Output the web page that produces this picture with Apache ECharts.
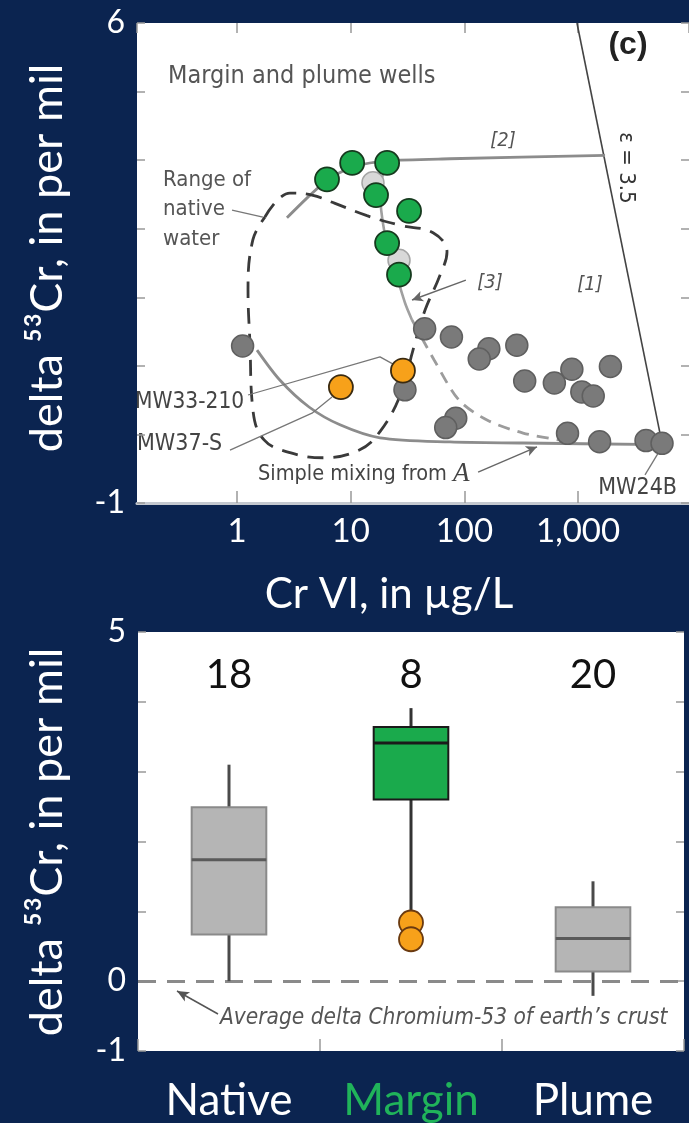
<!DOCTYPE html>
<html>
<head>
<meta charset="utf-8">
<script src="https://cdn.jsdelivr.net/npm/echarts@6/dist/echarts.min.js"></script>
<style>
html,body{margin:0;padding:0;background:#0b2450;}
#c{width:689px;height:1123px;}
</style>
</head>
<body>
<div id="c"></div>
<script>
// ---------- DATA (top panel: Cr VI µg/L vs delta 53Cr) ----------
const xTickValues = [1, 10, 100, 1000];
const yTopLabels = [-1, 6];
const yBottomLabels = [-1, 0, 5];

const greenPts  = [[6.19,3.72],[10.3,3.96],[20.9,3.96],[16.7,3.49],[32.6,3.26],[20.9,2.79],[26.6,2.33]];
const hollowPts = [[15.7,3.67],[26.6,2.54]];
const grayPts   = [[1.12,1.29],[44.7,1.54],[76.9,1.42],[164,1.25],[135,1.10],[289,1.30],[339,0.78],
                   [618,0.75],[881,0.95],[1923,0.99],[1078,0.62],[1358,0.56],[83.9,0.235],[68.5,0.10],
                   [807,0.016],[1545,-0.106],[3956,-0.09],[5470,-0.13],[30,0.65]];
const orangePts = [[8.2,0.69],[28.8,0.93]];

const epsilonLine = [[977,6],[5470,-0.13]];
const curve2 = [[2.75,3.16],[4.39,3.49],[6.58,3.74],[10.9,3.91],[20.9,3.99],[74.7,4.02],[1726,4.07]];
const curve3 = [[20.9,3.99],[18.1,3.56],[20.0,2.91],[24.5,2.40],[30,1.92],[34.6,1.67]];
const curve3Dash = [[34.6,1.67],[54,1.09],[89.7,0.50],[158,0.21],[328,0.02],[679,-0.08]];
const mixingCurve = [[1.50,1.23],[2.39,0.79],[4.30,0.40],[8.05,0.14],[18.1,-0.05],[74.7,-0.11],[328,-0.125],[5470,-0.15]];
const nativeEnvelope = [[1.76,3.17],[2.92,3.52],[4.57,3.49],[7.28,3.37],[13.9,3.19],[27.2,3.05],[53,2.94],
                        [70.3,2.66],[61,2.32],[45,1.81],[35.3,1.23],[27.7,0.60],[18.1,0.04],[11.8,-0.23],
                        [5.71,-0.34],[2.98,-0.27],[1.73,-0.08],[1.38,0.36],[1.30,1.33],[1.25,2.11],[1.38,2.84],[1.76,3.17]];
const leaderNative = [[0.904,3.27],[1.69,3.17]];
const leaderMW33 = [[1.25,0.575],[18.1,1.13],[24.5,1.01]];
const leaderMW37 = [[0.868,-0.23],[4.57,0.31],[6.85,0.545]];
const leaderMW24B = [[3875,-0.59],[5250,-0.23]];
const arrow3 = [[103,2.25],[34.6,1.96]];
const arrowMixing = [[132,-0.55],[435,-0.18]];

// ---------- DATA (bottom panel: box plots) ----------
const boxCats = ['Native','Margin','Plume'];
// [low whisker, Q1, median, Q3, high whisker]
const boxStats = [[0.0,0.67,1.74,2.49,3.1],[0.84,2.6,3.41,3.64,3.91],[-0.21,0.14,0.61,1.06,1.43]];
const boxCounts = [18, 8, 20];
const countLevel = 4.39;
const marginOutliers = [0.84, 0.6];
const crustAverage = 0;

// ---------- STYLES ----------
const NAVY = '#0b2450';
const GREEN = '#1aaa4c';
const ORANGE = '#f7a11a';
const NARROW = "'Liberation Sans Narrow','DejaVu Sans Condensed','Arial Narrow',sans-serif";
const SLIDE = "Lato,'Open Sans',sans-serif";
const boxStyles = [
  {fill:'#b5b5b5', stroke:'#8a8a8a', whisker:'#4a4a4a', median:'#5a5a5a'},
  {fill:GREEN, stroke:'#1a1a1a', whisker:'#333', median:'#1a1a1a'},
  {fill:'#b5b5b5', stroke:'#8a8a8a', whisker:'#4a4a4a', median:'#5a5a5a'}
];

const chart = echarts.init(document.getElementById('c'), null, {renderer:'canvas'});

function lineSeries(data, style, extra) {
  return Object.assign({
    type:'line', xAxisIndex:0, yAxisIndex:0, data:data, symbol:'none', silent:true,
    lineStyle:style, smooth:0.35, z:2, animation:false
  }, extra || {});
}
const tickStyle = {color:'#999', width:1.5};

const option = {
  backgroundColor: NAVY,
  animation:false,
  grid:[
    {left:137, top:23, right:0, height:480, show:true, backgroundColor:'#fff', borderWidth:0},
    {left:138, top:632, right:5, height:420, show:true, backgroundColor:'#fff', borderWidth:0}
  ],
  xAxis:[
    {gridIndex:0, type:'log', min:0.132, max:9445, position:'bottom',
     axisLine:{show:true, onZero:false, lineStyle:{color:'#c4c8cf', width:3}},
     axisTick:{show:true, inside:true, length:12, lineStyle:tickStyle},
     axisLabel:{color:'#fff', fontSize:33, fontFamily:SLIDE, margin:12, showMinLabel:false, showMaxLabel:false,
       formatter:function(v){ const r=Math.round(v); return xTickValues.indexOf(r)>=0 ? r.toLocaleString('en-US') : ''; }},
     splitLine:{show:false}},
    {gridIndex:0, type:'log', min:0.132, max:9445, position:'top',
     axisLine:{show:false, onZero:false}, axisTick:{show:true, inside:true, length:10, lineStyle:tickStyle},
     axisLabel:{show:false}, splitLine:{show:false}},
    {gridIndex:1, type:'category', data:boxCats, position:'bottom',
     axisLine:{show:false, onZero:false},
     axisTick:{show:true, inside:true, length:12, alignWithLabel:false, lineStyle:tickStyle},
     axisLabel:{margin:28, fontFamily:SLIDE,
       formatter:function(v){ return v==='Margin' ? '{g|'+v+'}' : '{w|'+v+'}'; },
       rich:{ g:{color:'#20b35a', fontSize:44, fontFamily:SLIDE}, w:{color:'#fff', fontSize:44, fontFamily:SLIDE} }},
     splitLine:{show:false}}
  ],
  yAxis:[
    {gridIndex:0, type:'value', min:-1, max:6, interval:1, position:'left',
     axisLine:{show:false}, axisTick:{show:true, inside:true, length:8, lineStyle:tickStyle},
     axisLabel:{color:'#fff', fontSize:32, fontFamily:SLIDE, margin:12,
       formatter:function(v){ return yTopLabels.indexOf(v)>=0 ? String(v) : ''; }},
     splitLine:{show:false}},
    {gridIndex:0, type:'value', min:-1, max:6, interval:1, position:'right',
     axisLine:{show:false}, axisTick:{show:true, inside:true, length:8, lineStyle:tickStyle},
     axisLabel:{show:false}, splitLine:{show:false}},
    {gridIndex:1, type:'value', min:-1, max:5, interval:1, position:'left',
     axisLine:{show:false}, axisTick:{show:true, inside:true, length:8, lineStyle:tickStyle},
     axisLabel:{color:'#fff', fontSize:32, fontFamily:SLIDE, margin:12,
       formatter:function(v){ return yBottomLabels.indexOf(v)>=0 ? String(v) : ''; }},
     splitLine:{show:false}},
    {gridIndex:1, type:'value', min:-1, max:5, interval:1, position:'right',
     axisLine:{show:false}, axisTick:{show:true, inside:true, length:8, lineStyle:tickStyle},
     axisLabel:{show:false}, splitLine:{show:false}}
  ],
  series:[
    lineSeries(epsilonLine, {color:'#444', width:1.6}, {smooth:false,
      markLine:{silent:true, symbol:['none','arrow'], symbolSize:[8,11], label:{show:false},
        lineStyle:{color:'#666', width:1.4, type:'solid'},
        data:[
          [{coord:arrow3[0], lineStyle:{curveness:0.1}},{coord:arrow3[1]}],
          [{coord:arrowMixing[0], lineStyle:{curveness:0.25}},{coord:arrowMixing[1]}]
        ]}}),
    lineSeries(curve2, {color:'#8c8c8c', width:2.8}, {smooth:0.25}),
    lineSeries(curve3, {color:'#a0a0a0', width:2.6}, {smooth:0.3}),
    lineSeries(curve3Dash, {color:'#9c9c9c', width:2.8, type:[12,8]}, {smooth:0.3}),
    lineSeries(mixingCurve, {color:'#8c8c8c', width:2.8}, {smooth:0.3}),
    lineSeries(nativeEnvelope, {color:'#3a3a3a', width:2.8, type:[16,10]}, {smooth:0.4}),
    lineSeries(leaderNative, {color:'#777', width:1.3}, {smooth:false}),
    lineSeries(leaderMW33, {color:'#777', width:1.3}, {smooth:false}),
    lineSeries(leaderMW37, {color:'#777', width:1.3}, {smooth:false}),
    lineSeries(leaderMW24B, {color:'#777', width:1.3}, {smooth:false}),
    {type:'scatter', xAxisIndex:0, yAxisIndex:0, data:grayPts, symbolSize:22, z:4,
     itemStyle:{color:'#7a7a7a', borderColor:'#5f5f5f', borderWidth:1.5, opacity:1}},
    {type:'scatter', xAxisIndex:0, yAxisIndex:0, data:hollowPts, symbolSize:22, z:4,
     itemStyle:{color:'#d8d8d8', borderColor:'#a5a5a5', borderWidth:1.5, opacity:1}},
    {type:'scatter', xAxisIndex:0, yAxisIndex:0, data:orangePts, symbolSize:24, z:5,
     itemStyle:{color:ORANGE, borderColor:'#3a2a10', borderWidth:1.8, opacity:1}},
    {type:'scatter', xAxisIndex:0, yAxisIndex:0, data:greenPts, symbolSize:24, z:5,
     itemStyle:{color:GREEN, borderColor:'#163a1e', borderWidth:1.8, opacity:1}},

    // ---- bottom panel ----
    {type:'custom', xAxisIndex:2, yAxisIndex:2, z:3,
     data:boxStats.map(function(s,i){ return [i].concat(s); }),
     renderItem:function(params, api){
       const i = api.value(0), st = boxStyles[i];
       const lo=api.coord([i,api.value(1)]), q1=api.coord([i,api.value(2)]), md=api.coord([i,api.value(3)]),
             q3=api.coord([i,api.value(4)]), hi=api.coord([i,api.value(5)]);
       const bw = api.size([1,0])[0]*0.41;
       const x0 = lo[0]-bw/2;
       return {type:'group', children:[
         {type:'line', shape:{x1:hi[0],y1:hi[1],x2:q3[0],y2:q3[1]}, style:{stroke:st.whisker, lineWidth:3}},
         {type:'line', shape:{x1:q1[0],y1:q1[1],x2:lo[0],y2:lo[1]}, style:{stroke:st.whisker, lineWidth:3}},
         {type:'rect', shape:{x:x0, y:q3[1], width:bw, height:q1[1]-q3[1]}, style:{fill:st.fill, stroke:st.stroke, lineWidth:2}},
         {type:'line', shape:{x1:x0,y1:md[1],x2:x0+bw,y2:md[1]}, style:{stroke:st.median, lineWidth:3}}
       ]};
     }},
    {type:'scatter', xAxisIndex:2, yAxisIndex:2, z:5, symbolSize:24,
     data:marginOutliers.map(function(v){ return [1, v]; }),
     itemStyle:{color:ORANGE, borderColor:'#6a3a10', borderWidth:1.8, opacity:1}},
    {type:'scatter', xAxisIndex:2, yAxisIndex:2, z:5, symbolSize:1, silent:true,
     data:boxCats.map(function(c,i){ return [i, countLevel]; }),
     itemStyle:{color:'rgba(0,0,0,0)', opacity:1},
     label:{show:true, position:'inside', color:'#111', fontSize:40, fontFamily:SLIDE,
       formatter:function(p){ return String(boxCounts[p.dataIndex]); }},
     markLine:{silent:true, symbol:['none','none'], label:{show:false}, z:2,
       lineStyle:{color:'#8a8a8a', width:3, type:[18,11]},
       data:[{yAxis:crustAverage}]}},
    {type:'scatter', xAxisIndex:2, yAxisIndex:2, data:[],
     markLine:{silent:true, symbol:['none','arrow'], symbolSize:[8,12], label:{show:false},
       lineStyle:{color:'#555', width:1.5, type:'solid'},
       data:[[{x:218, y:1014, lineStyle:{curveness:-0.35}},{x:177, y:991}]]}}
  ],
  graphic:[
    {type:'text', x:47, y:258, rotation:Math.PI/2, style:{text:'delta \u2075\u00b3Cr, in per mil', fill:'#fff', font:'45px '+SLIDE, textAlign:'center', textVerticalAlign:'middle'}},
    {type:'text', x:47, y:842, rotation:Math.PI/2, style:{text:'delta \u2075\u00b3Cr, in per mil', fill:'#fff', font:'45px '+SLIDE, textAlign:'center', textVerticalAlign:'middle'}},
    {type:'text', x:389, y:594, style:{text:'Cr VI, in \u00b5g/L', fill:'#fff', font:'42px '+SLIDE, textAlign:'center', textVerticalAlign:'middle'}},
    {type:'text', x:168, y:76, style:{text:'Margin and plume wells', fill:'#555', font:'25px '+NARROW, textAlign:'left', textVerticalAlign:'middle'}},
    {type:'text', x:628, y:45, style:{text:'(c)', fill:'#222', font:'bold 32px Arial,sans-serif', textAlign:'center', textVerticalAlign:'middle'}},
    {type:'text', x:503, y:141, style:{text:'[2]', fill:'#555', font:'italic 20px '+NARROW, textAlign:'center', textVerticalAlign:'middle'}},
    {type:'text', x:490, y:283, style:{text:'[3]', fill:'#555', font:'italic 20px '+NARROW, textAlign:'center', textVerticalAlign:'middle'}},
    {type:'text', x:590, y:285, style:{text:'[1]', fill:'#555', font:'italic 20px '+NARROW, textAlign:'center', textVerticalAlign:'middle'}},
    {type:'text', x:626, y:168, rotation:-Math.PI/2, style:{text:'\u03b5 = 3.5', fill:'#333', font:'22px '+NARROW, textAlign:'center', textVerticalAlign:'middle'}},
    {type:'text', x:163, y:180, style:{text:'Range of', fill:'#555', font:'22px '+NARROW, textAlign:'left', textVerticalAlign:'middle'}},
    {type:'text', x:163, y:209, style:{text:'native', fill:'#555', font:'22px '+NARROW, textAlign:'left', textVerticalAlign:'middle'}},
    {type:'text', x:163, y:239, style:{text:'water', fill:'#555', font:'22px '+NARROW, textAlign:'left', textVerticalAlign:'middle'}},
    {type:'text', x:135, y:402, style:{text:'MW33-210', fill:'#444', font:'22.5px '+NARROW, textAlign:'left', textVerticalAlign:'middle'}},
    {type:'text', x:137, y:444, style:{text:'MW37-S', fill:'#444', font:'23px '+NARROW, textAlign:'left', textVerticalAlign:'middle'}},
    {type:'text', x:258, y:474, style:{text:'{a|Simple mixing from }{b|A}', fill:'#444', textAlign:'left', textVerticalAlign:'middle',
      rich:{a:{font:'21.5px '+NARROW, fill:'#444'}, b:{font:'italic 27px "Liberation Serif",serif', fill:'#444'}}}},
    {type:'text', x:677, y:488, style:{text:'MW24B', fill:'#444', font:'23px '+NARROW, textAlign:'right', textVerticalAlign:'middle'}},
    {type:'text', x:220, y:1018, style:{text:"Average delta Chromium-53 of earth\u2019s crust", fill:'#555', font:'italic 22.5px '+NARROW, textAlign:'left', textVerticalAlign:'middle'}}
  ]
};
chart.setOption(option);
</script>
</body>
</html>
